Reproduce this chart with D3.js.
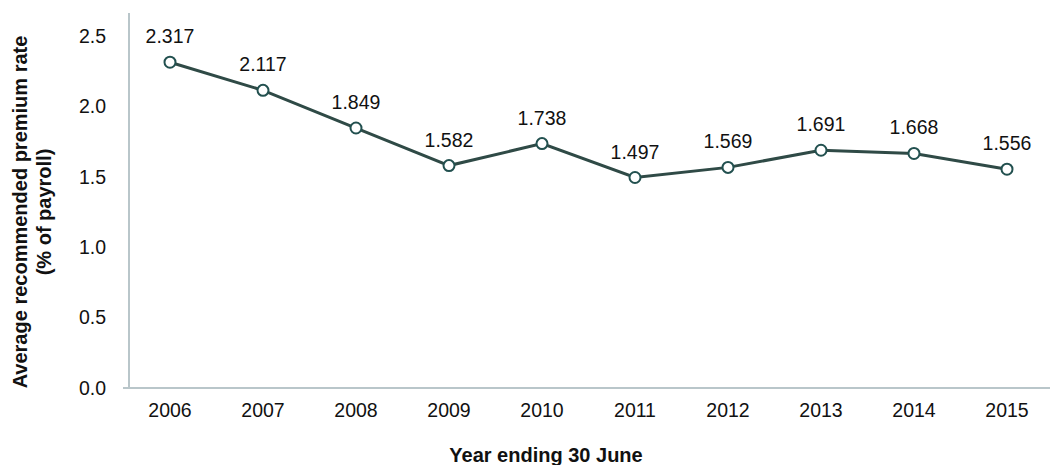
<!DOCTYPE html>
<html lang="en">
<head>
    <meta charset="UTF-8">
    <script src="https://d3js.org/d3.v7.min.js"></script>
    <title>Premium rate</title>
    <style>
        body { margin: 0; background: #fff; }
        svg text { font-family: "Liberation Sans", Arial, sans-serif; fill: #111; }
    </style>
</head>
<body>
    <svg width="1050" height="465" id="chart"></svg>
    <script>

        const years = ["2006", "2007", "2008", "2009", "2010", "2011", "2012", "2013", "2014", "2015"];
        const rates = [2.317, 2.117, 1.849, 1.582, 1.738, 1.497, 1.569, 1.691, 1.668, 1.556];
        const yTicks = [0, 0.5, 1.0, 1.5, 2.0, 2.5];

        let svg = d3.select("#chart");

        let x = d3.scalePoint().domain(years).range([170, 1007]);
        let y = d3.scaleLinear().domain([0, 2.667]).range([388, 13]);

        // axes lines
        svg.append("line")
            .attr("x1", 129).attr("x2", 129)
            .attr("y1", y(2.667)).attr("y2", y(0))
            .attr("style", "stroke: #b9c6ca; stroke-width: 2");
        svg.append("line")
            .attr("x1", 123).attr("x2", 1050)
            .attr("y1", y(0)).attr("y2", y(0))
            .attr("style", "stroke: #b9c6ca; stroke-width: 2");

        // y tick labels
        svg.selectAll(".ytick")
            .data(yTicks)
            .enter().append("text")
            .attr("class", "ytick")
            .attr("x", 106)
            .attr("y", d => y(d) + 6.5)
            .attr("text-anchor", "end")
            .style("font-size", "19.5px")
            .text(d => d.toFixed(1));

        // x tick labels
        svg.selectAll(".xtick")
            .data(years)
            .enter().append("text")
            .attr("class", "xtick")
            .attr("x", d => x(d))
            .attr("y", 417)
            .attr("text-anchor", "middle")
            .style("font-size", "19.5px")
            .text(d => d);

        // axis titles
        svg.append("text")
            .attr("x", 546).attr("y", 461.5)
            .attr("text-anchor", "middle")
            .style("font-size", "20px").style("font-weight", "bold")
            .text("Year ending 30 June");

        let yt = svg.append("text")
            .attr("transform", "translate(0,212) rotate(-90)")
            .attr("text-anchor", "middle")
            .style("font-size", "20px").style("font-weight", "bold");
        yt.append("tspan").attr("x", 0).attr("y", 27).text("Average recommended premium rate");
        yt.append("tspan").attr("x", 0).attr("y", 51).text("(% of payroll)");

        // line
        let line = d3.line()
            .x((d, i) => x(years[i]))
            .y(d => y(d));

        svg.append("path")
            .datum(rates)
            .attr("d", line)
            .attr("style", "fill: none; stroke: #2f4a46; stroke-width: 3");

        svg.selectAll(".dot")
            .data(rates)
            .enter().append("circle")
            .attr("class", "dot")
            .attr("cx", (d, i) => x(years[i]))
            .attr("cy", d => y(d))
            .attr("r", 5.5)
            .attr("style", "fill: #fff; stroke: #22504f; stroke-width: 2");

        // value labels
        svg.selectAll(".val")
            .data(rates)
            .enter().append("text")
            .attr("class", "val")
            .attr("x", (d, i) => x(years[i]))
            .attr("y", d => y(d) - 19)
            .attr("text-anchor", "middle")
            .style("font-size", "19.5px")
            .text(d => d.toFixed(3));

    </script>
</body>
</html>
